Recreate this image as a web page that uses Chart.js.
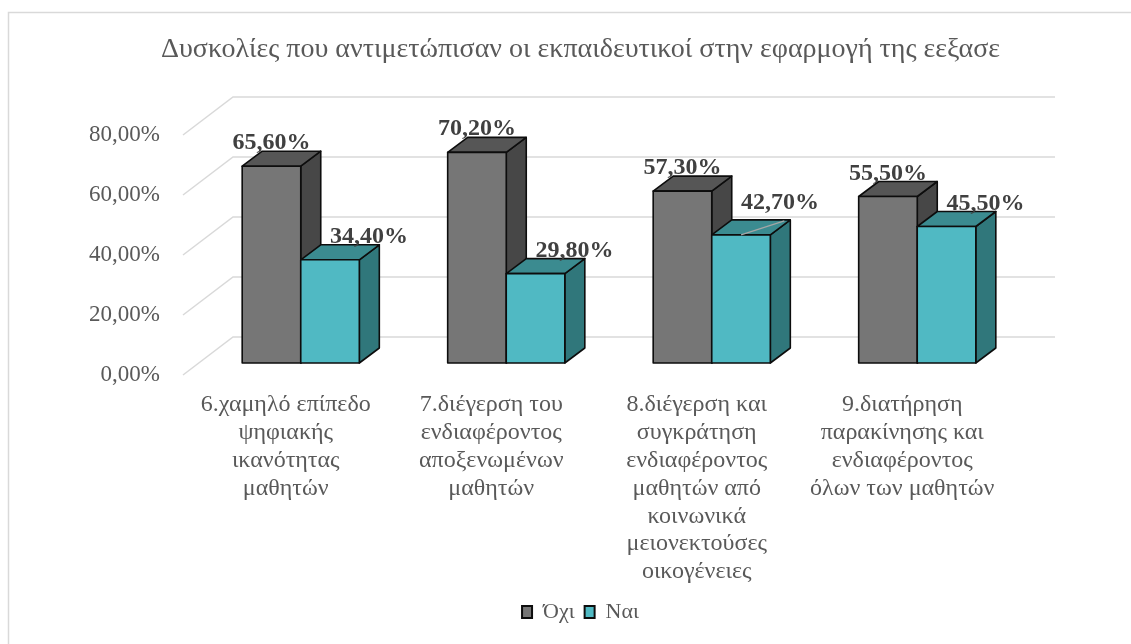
<!DOCTYPE html>
<html>
<head>
<meta charset="utf-8">
<script src="https://cdn.jsdelivr.net/npm/chart.js@4"></script>
<style>
  html, body { margin: 0; padding: 0; background: #fff; }
  #wrap { width: 1131px; height: 644px; position: relative; }
</style>
</head>
<body>
<div id="wrap"><canvas id="c" width="1131" height="644"></canvas></div>
<script>
// ---- data ----
const categories = [
  ['6.χαμηλό επίπεδο', 'ψηφιακής', 'ικανότητας', 'μαθητών'],
  ['7.διέγερση του', 'ενδιαφέροντος', 'αποξενωμένων', 'μαθητών'],
  ['8.διέγερση και', 'συγκράτηση', 'ενδιαφέροντος', 'μαθητών από', 'κοινωνικά', 'μειονεκτούσες', 'οικογένειες'],
  ['9.διατήρηση', 'παρακίνησης και', 'ενδιαφέροντος', 'όλων των μαθητών']
];
const seriesNames = ['Όχι', 'Ναι'];
const ochiValues = [65.6, 70.2, 57.3, 55.5];
const naiValues = [34.4, 29.8, 42.7, 45.5];
const yTicks = [0, 20, 40, 60, 80];
const chartTitle = 'Δυσκολίες που αντιμετώπισαν οι εκπαιδευτικοί στην εφαρμογή της εεξασε';

// ---- styling ----
const FONT = "'Liberation Serif', 'Times New Roman', serif";
const TEXT = '#595959';
const EDGE = '#0d0d0d';
const shades = [
  { front: '#767676', top: '#565656', side: '#474747' },
  { front: '#50b9c3', top: '#3b8b90', side: '#30777b' }
];
// oblique projection offsets, relative to the bar front faces
const depth = { wallDx: 35, wallDy: -26, frontDx: -15, frontDy: 12, barDx: 20, barDy: -15 };

const pct = v => v.toFixed(2).replace('.', ',') + '%';

// white page with the light frame of the chart object
const framePlugin = {
  id: 'frame',
  beforeDraw(chart) {
    const ctx = chart.ctx;
    ctx.save();
    ctx.fillStyle = '#fff';
    ctx.fillRect(0, 0, chart.width, chart.height);
    ctx.strokeStyle = '#d9d9d9';
    ctx.lineWidth = 1.5;
    ctx.strokeRect(8.5, 12.5, chart.width + 20, chart.height + 20);
    ctx.restore();
  }
};

// gridlines on the back wall, plus the receding side-wall segments
const wallGridPlugin = {
  id: 'wallGrid',
  beforeDatasetsDraw(chart) {
    const ctx = chart.ctx, ys = chart.scales.y, a = chart.chartArea;
    ctx.save();
    ctx.strokeStyle = '#d9d9d9';
    ctx.lineWidth = 1.5;
    for (const v of yTicks) {
      const py = ys.getPixelForValue(v);
      ctx.beginPath();
      ctx.moveTo(a.left + depth.frontDx, py + depth.frontDy);
      ctx.lineTo(a.left + depth.wallDx, py + depth.wallDy);
      ctx.lineTo(a.right + depth.wallDx, py + depth.wallDy);
      ctx.stroke();
    }
    ctx.restore();
  }
};

function poly(ctx, pts, fill) {
  ctx.beginPath();
  ctx.moveTo(pts[0][0], pts[0][1]);
  for (let i = 1; i < pts.length; i++) ctx.lineTo(pts[i][0], pts[i][1]);
  ctx.closePath();
  ctx.fillStyle = fill;
  ctx.fill();
  ctx.stroke();
}

// extruded boxes built on the bar elements, then the value labels
const boxPlugin = {
  id: 'boxes3d',
  afterDatasetsDraw(chart, args, opts) {
    const ctx = chart.ctx;
    const n = chart.data.labels.length;
    const dsCount = chart.data.datasets.length;
    ctx.save();
    ctx.strokeStyle = EDGE;
    ctx.lineWidth = 1.6;
    ctx.lineJoin = 'round';
    const dx = depth.barDx, dy = depth.barDy;
    for (let i = 0; i < n; i++) {
      for (let d = 0; d < dsCount; d++) {
        const el = chart.getDatasetMeta(d).data[i];
        const p = el.getProps(['x', 'y', 'base', 'width'], true);
        const l = p.x - p.width / 2, r = p.x + p.width / 2, t = p.y, b = p.base;
        const s = shades[d];
        poly(ctx, [[r, t], [r + dx, t + dy], [r + dx, b + dy], [r, b]], s.side);
        poly(ctx, [[l, t], [r, t], [r + dx, t + dy], [l + dx, t + dy]], s.top);
        poly(ctx, [[l, t], [r, t], [r, b], [l, b]], s.front);
      }
    }
    // value labels
    ctx.font = 'bold 24px ' + FONT;
    ctx.fillStyle = '#404040';
    ctx.textAlign = 'center';
    ctx.textBaseline = 'alphabetic';
    for (let d = 0; d < dsCount; d++) {
      const meta = chart.getDatasetMeta(d);
      const values = chart.data.datasets[d].data;
      meta.data.forEach((el, i) => {
        const p = el.getProps(['x', 'y', 'width'], true);
        const lx = p.x + opts.labelDx[d];
        let ly = p.y + opts.labelDy;
        const lift = opts.lifted.find(o => o.dataset === d && o.index === i);
        if (lift) {
          ly += lift.dy;
          ctx.save();
          ctx.strokeStyle = '#a6a6a6';
          ctx.lineWidth = 1.2;
          ctx.beginPath();
          ctx.moveTo(p.x, p.y);
          ctx.lineTo(p.x + p.width / 2 + depth.barDx - 6, p.y + depth.barDy + 1);
          ctx.stroke();
          ctx.restore();
        }
        ctx.fillText(pct(values[i]), lx, ly);
      });
    }
    ctx.restore();
  }
};

new Chart(document.getElementById('c'), {
  type: 'bar',
  data: {
    labels: categories,
    datasets: [
      { label: seriesNames[0], data: ochiValues, backgroundColor: shades[0].front, borderColor: EDGE, borderWidth: 2 },
      { label: seriesNames[1], data: naiValues, backgroundColor: shades[1].front, borderColor: EDGE, borderWidth: 2 }
    ]
  },
  options: {
    responsive: false,
    animation: false,
    events: [],
    barPercentage: 1,
    categoryPercentage: 0.57,
    layout: { padding: { left: 30, right: 0, top: 0, bottom: 11 } },
    scales: {
      x: {
        grid: { display: false },
        border: { display: false },
        ticks: {
          color: TEXT,
          font: { family: FONT, size: 24, lineHeight: 1.16 },
          padding: 20,
          labelOffset: -15,
          maxRotation: 0,
          autoSkip: false
        },
        afterFit(s) { s.height = 228; }
      },
      y: {
        min: 0,
        max: 80,
        grid: { display: false },
        border: { display: false },
        ticks: {
          stepSize: 20,
          color: TEXT,
          font: { family: FONT, size: 23 },
          padding: 30,
          labelOffset: 12,
          callback: v => pct(v)
        },
        afterFit(s) { s.width = 168; }
      },
      // empty right-hand band that keeps the plot clear of the frame edge
      yRight: {
        type: 'linear',
        position: 'right',
        min: 0,
        max: 80,
        grid: { display: false },
        border: { display: false },
        ticks: { display: false },
        afterFit(s) { s.width = 111; }
      }
    },
    plugins: {
      title: {
        display: true,
        text: chartTitle,
        color: TEXT,
        font: { family: FONT, size: 28, weight: 'normal', lineHeight: 1.2 },
        padding: { top: 33, bottom: 56.4 }
      },
      legend: {
        position: 'bottom',
        labels: {
          color: TEXT,
          font: { family: FONT, size: 22 },
          boxWidth: 10,
          boxHeight: 12,
          padding: 10
        }
      },
      tooltip: { enabled: false },
      boxes3d: {
        labelDx: [0, 39],
        labelDy: -17,
        lifted: [{ dataset: 1, index: 2, dy: -9 }]
      }
    }
  },
  plugins: [framePlugin, wallGridPlugin, boxPlugin]
});
</script>
</body>
</html>
